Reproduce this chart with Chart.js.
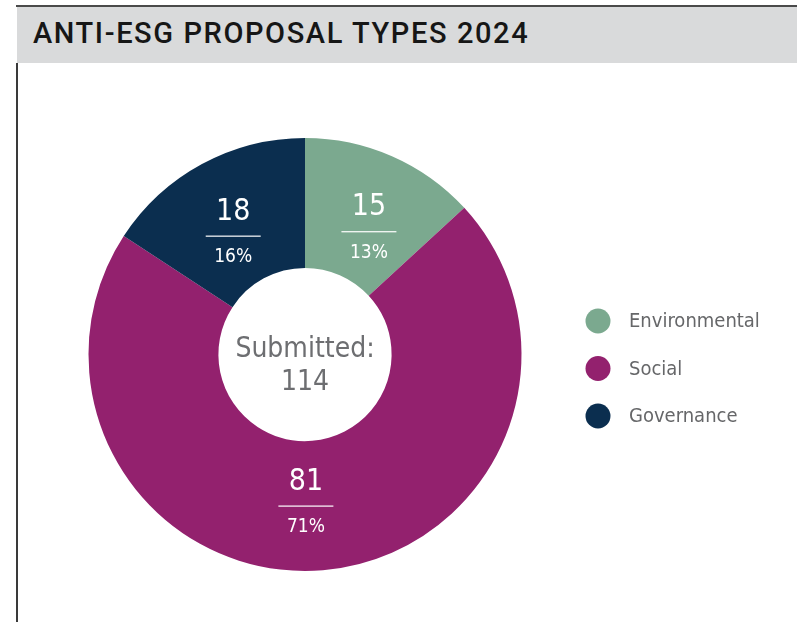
<!DOCTYPE html>
<html><head><meta charset="utf-8">
<script src="https://cdn.jsdelivr.net/npm/chart.js@4/dist/chart.umd.min.js"></script>
<style>
html,body{margin:0;padding:0;background:#fff;}
#wrap{position:relative;width:797px;height:622px;overflow:hidden;}
#topline{position:absolute;left:16px;top:5px;width:781px;height:2px;background:#4a4a4a;}
#header{position:absolute;left:17px;top:7px;width:780px;height:56px;background:#d9dadb;}
#title{position:absolute;left:33px;top:16px;font-family:Roboto,"Liberation Sans",sans-serif;font-size:29px;font-weight:500;letter-spacing:1.6px;color:#161616;white-space:nowrap;}
#leftline{position:absolute;left:16px;top:63px;width:1.5px;height:559px;background:#3a3a3a;}
canvas{position:absolute;left:0;top:0;}
</style></head><body>
<div id="wrap">
<div id="topline"></div>
<div id="header"></div>
<div id="title">ANTI-ESG PROPOSAL TYPES 2024</div>
<div id="leftline"></div>
<canvas id="c" width="797" height="622"></canvas>
</div>
<script>
const categories = ["Environmental", "Social", "Governance"];
const values = [15, 81, 18];
const colors = ["#7ba98f", "#93216e", "#0b2e4f"];
const centerLabel = "Submitted:";
const labelRadius = [138.5, 151.5, 138.5];
const labelAngleShift = [3.8, 4.4, -2.8];

const FONT = '"DejaVu Sans Condensed","DejaVu Sans",sans-serif';
const total = values.reduce((a, b) => a + b, 0);

const labelsPlugin = {
  id: 'labels',
  afterDatasetsDraw(chart) {
    const ctx = chart.ctx;
    const meta = chart.getDatasetMeta(0);
    ctx.save();
    meta.data.forEach((arc, i) => {
      const mid = (arc.startAngle + arc.endAngle) / 2 + labelAngleShift[i] * Math.PI / 180;
      const r = labelRadius[i];
      const x = arc.x + Math.cos(mid) * r;
      const y = arc.y + Math.sin(mid) * r;
      ctx.fillStyle = '#fff';
      ctx.textAlign = 'center';
      ctx.textBaseline = 'middle';
      ctx.font = '30px ' + FONT;
      ctx.fillText(String(values[i]), x, y - 24);
      ctx.fillRect(x - 27.5, y - 0.5, 55, 1.2);
      ctx.font = '19px ' + FONT;
      ctx.fillText(Math.round(values[i] / total * 100) + '%', x, y + 21);
    });
    const a0 = meta.data[0];
    ctx.fillStyle = '#6d6e71';
    ctx.font = '28px ' + FONT;
    ctx.fillText(centerLabel, a0.x, a0.y - 5);
    ctx.fillText(String(total), a0.x, a0.y + 28);
    const lx = 598, ly0 = 321, gap = 47.5;
    categories.forEach((c, i) => {
      const y = ly0 + i * gap;
      ctx.beginPath();
      ctx.arc(lx, y, 12.5, 0, Math.PI * 2);
      ctx.fillStyle = colors[i];
      ctx.fill();
      ctx.fillStyle = '#666769';
      ctx.textAlign = 'left';
      ctx.font = '20px ' + FONT;
      ctx.fillText(c, 629, y + 1);
    });
    ctx.restore();
  }
};

new Chart(document.getElementById('c'), {
  type: 'doughnut',
  data: {
    labels: categories,
    datasets: [{
      data: values,
      backgroundColor: colors,
      borderWidth: 0,
      hoverOffset: 0
    }]
  },
  options: {
    responsive: false,
    animation: false,
    cutout: '40%',
    layout: { padding: { left: 88, right: 275, top: 138, bottom: 51 } },
    plugins: { legend: { display: false }, tooltip: { enabled: false } },
    events: []
  },
  plugins: [labelsPlugin]
});
</script>
</body></html>
